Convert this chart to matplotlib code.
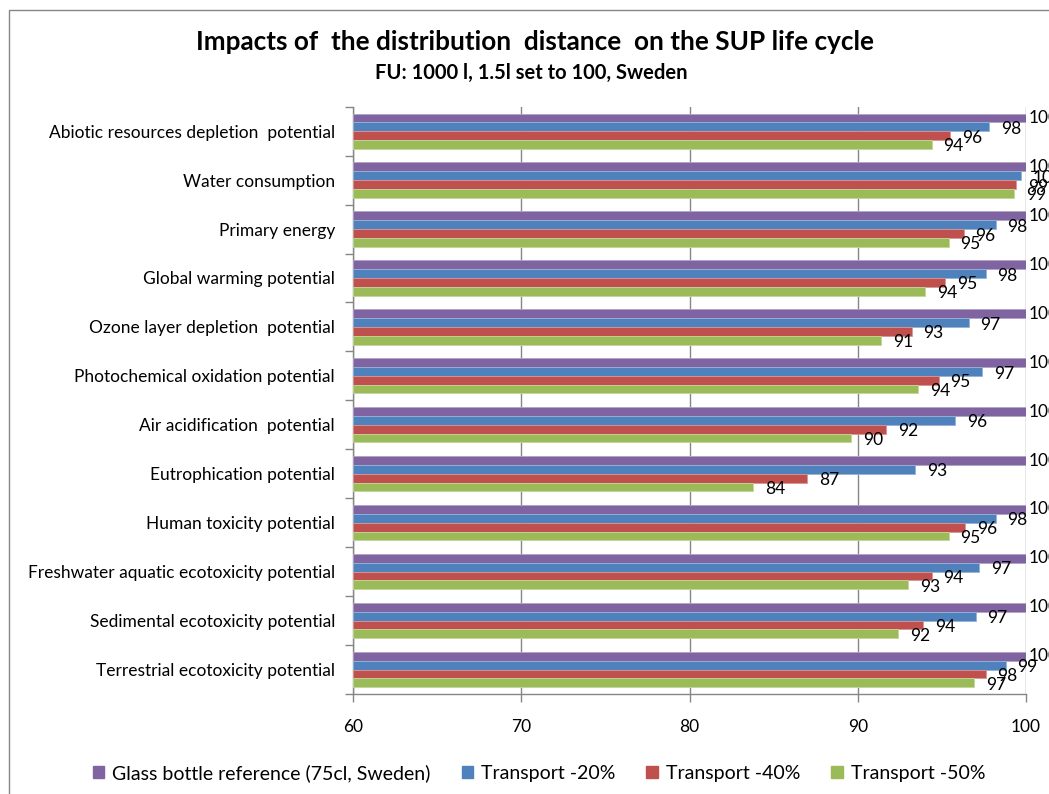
import matplotlib
matplotlib.use("Agg")
import matplotlib.pyplot as plt
from matplotlib.patches import Patch, Rectangle
import numpy as np

plt.rcParams['font.family'] = ['Lato', 'DejaVu Sans']

categories = [
    "Abiotic resources depletion  potential",
    "Water consumption",
    "Primary energy",
    "Global warming potential",
    "Ozone layer depletion  potential",
    "Photochemical oxidation potential",
    "Air acidification  potential",
    "Eutrophication potential",
    "Human toxicity potential",
    "Freshwater aquatic ecotoxicity potential",
    "Sedimental ecotoxicity potential",
    "Terrestrial ecotoxicity potential",
]

series_names = [
    "Glass bottle reference (75cl, Sweden)",
    "Transport -20%",
    "Transport -40%",
    "Transport -50%",
]

glass_ref = [100, 100, 100, 100, 100, 100, 100, 100, 100, 100, 100, 100]
transport_20 = [97.8, 99.7, 98.2, 97.6, 96.6, 97.4, 95.8, 93.4, 98.2, 97.2, 97.0, 98.8]
transport_40 = [95.5, 99.4, 96.3, 95.2, 93.2, 94.8, 91.7, 87.0, 96.4, 94.4, 93.9, 97.6]
transport_50 = [94.4, 99.3, 95.4, 94.0, 91.4, 93.6, 89.6, 83.8, 95.4, 93.0, 92.4, 96.9]

series_values = [glass_ref, transport_20, transport_40, transport_50]
colors = ["#8064A2", "#4F81BD", "#C0504D", "#9BBB59"]
edge_colors = ["#B3A2C7", "#95B3D7", "#D99694", "#C3D69B"]
label_dx = [2, 8.5, 8.5, 8.5]
label_dy = [0, -1.5, -1.5, -1.5]

W, H = 1049, 794
fig = plt.figure(figsize=(W / 100, H / 100), dpi=100)

# outer chart border
fig.patches.append(Rectangle((9 / W, -0.1), 1.2, 1.1 - 10 / H, transform=fig.transFigure,
                             fill=False, edgecolor="#868686", linewidth=1.0))

ax = fig.add_axes([353 / W, 1 - 694 / H, (1026 - 353) / W, (694 - 106.7) / H])

n = len(categories)
y = np.arange(n)
bar_h = 0.18
offsets = [-0.27, -0.09, 0.09, 0.27]
for vals, c, ec, off, name, dx, dy in zip(series_values, colors, edge_colors, offsets,
                                          series_names, label_dx, label_dy):
    vals = np.array(vals)
    ax.barh(y + off, vals - 60, left=60, height=bar_h, color=c, edgecolor=ec,
            linewidth=0.6, label=name, zorder=3)
    for yi, v in zip(y, vals):
        ax.annotate(f"{int(round(v))}", xy=(v, yi + off), xytext=(dx, dy),
                    textcoords="offset points", ha="left", va="center",
                    fontsize=12.5, color="#000000", annotation_clip=False, zorder=4)

ax.set_xlim(60, 100)
ax.set_ylim(n - 0.5, -0.5)
ax.set_xticks([60, 70, 80, 90, 100])
ax.tick_params(axis="x", direction="out", length=6, width=1, color="#868686",
               labelsize=12.5, pad=12)
ax.set_yticks(y)
ax.set_yticklabels(categories, fontsize=12.5)
ax.tick_params(axis="y", length=0, pad=13)
ax.set_yticks(np.arange(-0.5, n, 1), minor=True)
ax.tick_params(axis="y", which="minor", direction="out", length=6, width=1, color="#868686")

for s in ["top", "right"]:
    ax.spines[s].set_visible(False)
for s in ["left", "bottom"]:
    ax.spines[s].set_color("#868686")
    ax.spines[s].set_linewidth(1.0)

ax.grid(axis="x", color="#868686", linewidth=1.0, zorder=0)
ax.set_axisbelow(True)

fig.text(535 / W, 1 - 42 / H, "Impacts of  the distribution  distance  on the SUP life cycle",
         ha="center", va="center", fontsize=18.8, fontweight="bold")
fig.text(531 / W, 1 - 73 / H, "FU: 1000 l, 1.5l set to 100, Sweden",
         ha="center", va="center", fontsize=14.5, fontweight="bold")

handles = [Patch(facecolor=c, edgecolor=c) for c in colors]
fig.legend(handles, series_names, loc="center", bbox_to_anchor=(539 / W, 1 - 773 / H),
           ncol=4, frameon=False, fontsize=14, handlelength=0.6, handleheight=0.6,
           handletextpad=0.4, columnspacing=1.6)

fig.savefig("out.png", dpi=100)
